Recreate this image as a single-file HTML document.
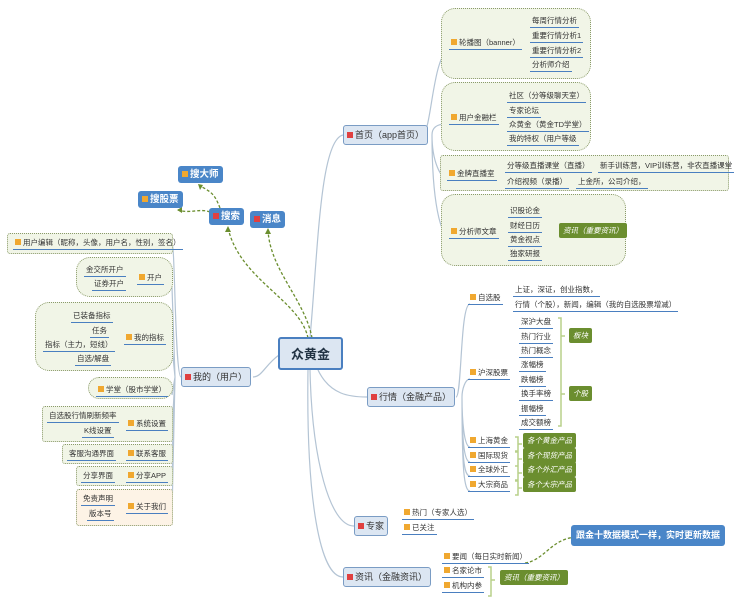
<!DOCTYPE html>
<html><head><meta charset="utf-8">
<style>
*{margin:0;padding:0;box-sizing:border-box}
body{width:735px;height:600px;background:#fff;position:relative;overflow:hidden;font-family:"Liberation Sans","Noto Sans CJK SC",sans-serif;color:#333}
.a{position:absolute}
.t{position:absolute;font-size:7.5px;line-height:10px;padding:0 2px 1px;border-bottom:1px solid #4a7fc0;white-space:nowrap}
.b{display:inline-block;width:6px;height:6px;background:#f0a830;margin-right:2px;vertical-align:0px}
.r{background:#e04040}
.cl{position:absolute;border:1px dotted #8a9a6a;background:#f1f5e7;border-radius:14px}
.dr{position:absolute;border:1px dotted #8a9a6a;background:#f1f5e7;border-radius:3px}
.m{position:absolute;background:#dce6f2;border:1px solid #7a9cc4;border-radius:3px;font-size:9px;line-height:18px;padding:0 3px;white-space:nowrap}
.bl{position:absolute;background:#4a86c8;color:#fff;border-radius:3px;font-size:9.5px;line-height:17px;padding:0 4px;font-weight:bold;white-space:nowrap}
.g{position:absolute;background:#6b8e2f;color:#fff;font-style:italic;font-size:7.5px;line-height:15px;padding:0 4px;border-radius:2px;white-space:nowrap}
</style></head><body>
<svg class="a" style="left:0;top:0" width="735" height="600">
<g fill="none" stroke="#b4c4d4" stroke-width="1.2">
<path d="M310 338 C318 250 320 140 343 135"/>
<path d="M318 370 C330 395 350 397 367 397"/>
<path d="M310 370 C312 460 330 526 354 526"/>
<path d="M308 370 C306 500 320 577 343 577"/>
<path d="M279 355 C265 365 262 377 253 377"/>
<path d="M422 135 C432 135 432 50 451 49 M432 135 C432 125 440 124 451 123 M432 135 C432 160 440 180 450 180 M432 135 C432 200 440 238 451 238"/>
<path d="M456 397 C462 397 460 304 470 304 M462 397 C462 390 465 379 470 379 M462 397 C462 420 464 447 470 447 M462 397 C462 470 464 491 470 491 M462 397 C462 440 464 462 470 462 M462 397 C462 460 464 476 470 476"/>
<path d="M181 377 C175 377 175 243 172 243 M175 377 L172 287 M175 377 L172 347 M175 377 L172 395 M175 377 L172 431 M175 377 L172 461 M175 377 L172 483 M175 377 L172 514"/>
</g>
<g fill="none" stroke="#6b8e2f" stroke-width="1.3" stroke-dasharray="3,2">
<path d="M308 338 C300 300 240 280 228 228"/>
<path d="M312 338 C305 300 270 270 268 230"/>
<path d="M220 208 C215 195 212 192 200 186"/>
<path d="M210 212 C200 208 190 214 178 210"/>
<path d="M525 563 C545 560 550 540 575 537"/>
</g>
<g fill="#6b8e2f"><polygon points="228,226 225,232 231,232"/><polygon points="268,228 265,234 271,234"/><polygon points="198,184 203,185 200,190"/><polygon points="177,210 182,207 182,213"/><polygon points="577,536 571,533 572,540"/></g>
<g fill="none" stroke="#b8d08a" stroke-width="1.5">
<path d="M552 207 h3 v51 h-3 M555 232 h3"/>
<path d="M558 318 h3 v108 h-3 M561 336 h4 M561 394 h4"/>
<path d="M515 437 h3 v14 h-3 M518 444 h4 M515 452 h3 v14 h-3 M518 459 h4 M515 466 h3 v14 h-3 M518 473 h4 M515 481 h3 v14 h-3 M518 488 h4"/>
<path d="M488 567 h3 v29 h-3 M491 580 h4"/>
</g>
</svg>

<div class="m" style="left:278px;top:337px;width:65px;height:33px;line-height:31px;font-size:13px;font-weight:bold;text-align:center;border:2px solid #4a7fc0;color:#234">众黄金</div>
<div class="m" style="left:343px;top:125px"><span class="b r"></span>首页（app首页）</div>
<div class="m" style="left:367px;top:387px"><span class="b r"></span>行情（金融产品）</div>
<div class="m" style="left:354px;top:516px"><span class="b r"></span>专家</div>
<div class="m" style="left:343px;top:567px"><span class="b r"></span>资讯（金融资讯）</div>
<div class="m" style="left:181px;top:367px"><span class="b r"></span>我的（用户）</div>

<div class="bl" style="left:209px;top:208px"><span class="b r"></span>搜索</div>
<div class="bl" style="left:250px;top:211px"><span class="b r"></span>消息</div>
<div class="bl" style="left:178px;top:166px"><span class="b"></span>搜大师</div>
<div class="bl" style="left:138px;top:191px"><span class="b"></span>搜股票</div>
<div class="bl" style="left:571px;top:525px;font-size:9px;line-height:21px;padding:0 5px">跟金十数据模式一样，实时更新数据</div>

<!-- homepage -->
<div class="cl" style="left:441px;top:8px;width:150px;height:71px"></div>
<div class="t" style="left:449px;top:38px"><span class="b"></span>轮播图（banner）</div>
<div class="t" style="left:530px;top:16px">每周行情分析</div>
<div class="t" style="left:530px;top:31px">重要行情分析1</div>
<div class="t" style="left:530px;top:46px">重要行情分析2</div>
<div class="t" style="left:530px;top:60px">分析师介绍</div>
<div class="cl" style="left:441px;top:82px;width:150px;height:69px"></div>
<div class="t" style="left:449px;top:113px"><span class="b"></span>用户金融栏</div>
<div class="t" style="left:507px;top:91px">社区（分等级聊天室）</div>
<div class="t" style="left:507px;top:106px">专家论坛</div>
<div class="t" style="left:507px;top:120px">众黄金（黄金TD学堂）</div>
<div class="t" style="left:507px;top:134px">我的特权（用户等级</div>
<div class="dr" style="left:440px;top:155px;width:289px;height:36px"></div>
<div class="t" style="left:447px;top:169px"><span class="b"></span>金牌直播室</div>
<div class="t" style="left:505px;top:161px">分等级直播课堂（直播）</div>
<div class="t" style="left:598px;top:161px">新手训练营，VIP训练营，非农直播课堂</div>
<div class="t" style="left:505px;top:177px">介绍视频（录播）</div>
<div class="t" style="left:576px;top:177px">上金所，公司介绍，</div>
<div class="cl" style="left:441px;top:194px;width:185px;height:72px"></div>
<div class="t" style="left:449px;top:227px"><span class="b"></span>分析师文章</div>
<div class="t" style="left:508px;top:206px">识股论金</div>
<div class="t" style="left:508px;top:221px">财经日历</div>
<div class="t" style="left:508px;top:235px">黄金视点</div>
<div class="t" style="left:508px;top:249px">独家研报</div>
<div class="g" style="left:559px;top:223px">资讯（重要资讯）</div>

<!-- market -->
<div class="t" style="left:468px;top:293px"><span class="b"></span>自选股</div>
<div class="t" style="left:513px;top:285px">上证，深证，创业指数，</div>
<div class="t" style="left:513px;top:300px">行情（个股），新闻，编辑（我的自选股票增减）</div>
<div class="t" style="left:468px;top:368px"><span class="b"></span>沪深股票</div>
<div class="t" style="left:519px;top:317px">深沪大盘</div>
<div class="t" style="left:519px;top:332px">热门行业</div>
<div class="t" style="left:519px;top:346px">热门概念</div>
<div class="t" style="left:519px;top:360px">涨幅榜</div>
<div class="t" style="left:519px;top:375px">跌幅榜</div>
<div class="t" style="left:519px;top:389px">换手率榜</div>
<div class="t" style="left:519px;top:404px">振幅榜</div>
<div class="t" style="left:519px;top:418px">成交额榜</div>
<div class="g" style="left:569px;top:328px">板块</div>
<div class="g" style="left:569px;top:386px">个股</div>
<div class="t" style="left:468px;top:436px"><span class="b"></span>上海黄金</div>
<div class="t" style="left:468px;top:451px"><span class="b"></span>国际现货</div>
<div class="t" style="left:468px;top:465px"><span class="b"></span>全球外汇</div>
<div class="t" style="left:468px;top:480px"><span class="b"></span>大宗商品</div>
<div class="g" style="left:523px;top:433px">各个黄金产品</div>
<div class="g" style="left:523px;top:448px">各个现货产品</div>
<div class="g" style="left:523px;top:462px">各个外汇产品</div>
<div class="g" style="left:523px;top:477px">各个大宗产品</div>

<div class="t" style="left:402px;top:508px"><span class="b"></span>热门（专家人选）</div>
<div class="t" style="left:402px;top:523px"><span class="b"></span>已关注</div>
<div class="t" style="left:442px;top:552px"><span class="b"></span>要闻（每日实时新闻）</div>
<div class="t" style="left:442px;top:566px"><span class="b"></span>名家论市</div>
<div class="t" style="left:442px;top:581px"><span class="b"></span>机构内参</div>
<div class="g" style="left:500px;top:570px">资讯（重要资讯）</div>

<!-- left -->
<div class="dr" style="left:7px;top:233px;width:166px;height:21px"></div>
<div class="t" style="left:13px;top:238px"><span class="b"></span>用户编辑（昵称，头像，用户名，性别，签名）</div>
<div class="cl" style="left:76px;top:257px;width:97px;height:40px"></div>
<div class="t" style="left:84px;top:265px">金交所开户</div>
<div class="t" style="left:92px;top:279px">证券开户</div>
<div class="t" style="left:137px;top:273px"><span class="b"></span>开户</div>
<div class="cl" style="left:35px;top:302px;width:138px;height:69px"></div>
<div class="t" style="left:71px;top:311px">已装备指标</div>
<div class="t" style="left:90px;top:326px">任务</div>
<div class="t" style="left:43px;top:340px">指标（主力，短线）</div>
<div class="t" style="left:75px;top:354px">自选/解盘</div>
<div class="t" style="left:124px;top:333px"><span class="b"></span>我的指标</div>
<div class="cl" style="left:88px;top:377px;width:85px;height:22px"></div>
<div class="t" style="left:96px;top:385px"><span class="b"></span>学堂（股市学堂）</div>
<div class="dr" style="left:42px;top:406px;width:131px;height:36px"></div>
<div class="t" style="left:47px;top:411px">自选股行情刷新频率</div>
<div class="t" style="left:82px;top:426px">K线设置</div>
<div class="t" style="left:126px;top:419px"><span class="b"></span>系统设置</div>
<div class="dr" style="left:62px;top:444px;width:111px;height:20px"></div>
<div class="t" style="left:67px;top:449px">客服沟通界面</div>
<div class="t" style="left:126px;top:449px"><span class="b"></span>联系客服</div>
<div class="dr" style="left:76px;top:466px;width:97px;height:20px"></div>
<div class="t" style="left:81px;top:471px">分享界面</div>
<div class="t" style="left:126px;top:471px"><span class="b"></span>分享APP</div>
<div class="dr" style="left:76px;top:489px;width:97px;height:37px;background:#fdf3e6"></div>
<div class="t" style="left:81px;top:494px">免责声明</div>
<div class="t" style="left:87px;top:509px">版本号</div>
<div class="t" style="left:126px;top:502px"><span class="b"></span>关于我们</div>
</body></html>
